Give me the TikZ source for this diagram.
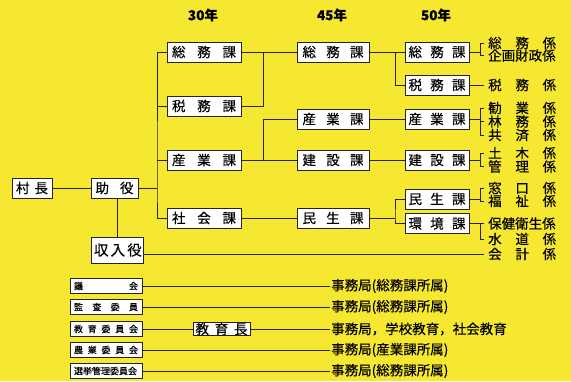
\documentclass[tikz,border=0pt]{standalone}
\usepackage{fontspec}
\setmainfont{Noto Sans CJK JP}[FakeBold=0.35]
\usetikzlibrary{positioning,calc}
\definecolor{bgyel}{RGB}{246,232,48}
\definecolor{ink}{RGB}{40,36,20}
\newcommand{\spr}[2]{\makebox[#1][s]{#2}}
\tikzset{
  conn/.style={draw=ink,line width=1pt},
  kabox/.style={draw=ink,line width=0.9pt,fill=white,inner sep=0pt,minimum height=20pt,font=\fontsize{13.5}{14}\selectfont},
  k30/.style={kabox,minimum width=74pt},
  k45/.style={kabox,minimum width=72pt},
  k50/.style={kabox,minimum width=64pt},
  kakari/.style={anchor=west,inner xsep=4pt,inner ysep=0pt,font=\fontsize{13.5}{14}\selectfont},
  iin/.style={draw=ink,line width=0.8pt,fill=white,inner sep=0pt,minimum width=72pt,minimum height=15pt,font=\fontsize{9}{9}\selectfont},
  kyoku/.style={anchor=west,inner xsep=1pt,inner ysep=0pt,font=\fontsize{13.5}{14}\selectfont},
  nen/.style={font=\bfseries\fontsize{13.5}{14}\selectfont},
}
\begin{document}
\begin{tikzpicture}[x=1pt,y=-1pt]
  \useasboundingbox[fill=bgyel] (0,0) rectangle (571,381);
  % nendo
  \node[nen] (n30) at (203,15) {30年};
  \node[nen] (n45) at (332,15) {45年};
  \node[nen] (n50) at (436,15) {50年};
  % sancho, joyaku
  \node[kabox,minimum width=40pt] (son) at (32,188) {\spr{32pt}{村 長}};
  \node[kabox,minimum width=47pt] (jo) at (114.5,188) {\spr{38pt}{助 役}};
  \node[kabox,minimum width=52pt,minimum height=26pt,font=\fontsize{14.5}{15}\selectfont] (shu) at (117,250) {\spr{46pt}{収 入 役}};
  % 30 nen
  \node[k30] (so30) at (204,52) {\spr{64pt}{総 務 課}};
  \node[k30] (ze30) at (204,106) {\spr{64pt}{税 務 課}};
  \node[k30] (san30) at (204,160) {\spr{64pt}{産 業 課}};
  \node[k30] (sha30) at (204,218) {\spr{64pt}{社 会 課}};
  % 45 nen
  \node[k45] (so45) at (333,52) {\spr{61pt}{総 務 課}};
  \node[k45] (san45) at (333,119) {\spr{61pt}{産 業 課}};
  \node[k45] (ke45) at (333,160) {\spr{61pt}{建 設 課}};
  \node[k45] (min45) at (333,218) {\spr{61pt}{民 生 課}};
  % 50 nen
  \node[k50] (so50) at (437,52) {\spr{57pt}{総 務 課}};
  \node[k50] (ze50) at (437,85) {\spr{57pt}{税 務 課}};
  \node[k50] (san50) at (437,119) {\spr{57pt}{産 業 課}};
  \node[k50] (ke50) at (437,160) {\spr{57pt}{建 設 課}};
  \node[k50] (min50) at (437,199) {\spr{57pt}{民 生 課}};
  \node[k50] (kan50) at (437,223.5) {\spr{57pt}{環 境 課}};
  % kakari
  \node[kakari] (k11) at (484,43) {\spr{68pt}{総 務 係}};
  \node[kakari] (k12) at (484,55.5) {\spr{68pt}{企画財政係}};
  \node[kakari] (k21) at (484,85) {\spr{68pt}{税 務 係}};
  \node[kakari] (k31) at (484,108) {\spr{68pt}{勧 業 係}};
  \node[kakari] (k32) at (484,121.5) {\spr{68pt}{林 務 係}};
  \node[kakari] (k33) at (484,135) {\spr{68pt}{共 済 係}};
  \node[kakari] (k41) at (484,153) {\spr{68pt}{土 木 係}};
  \node[kakari] (k42) at (484,166.5) {\spr{68pt}{管 理 係}};
  \node[kakari] (k51) at (484,188) {\spr{68pt}{窓 口 係}};
  \node[kakari] (k52) at (484,201) {\spr{68pt}{福 祉 係}};
  \node[kakari] (k61) at (484,223.5) {\spr{68pt}{保健衛生係}};
  \node[kakari] (k62) at (484,239) {\spr{68pt}{水 道 係}};
  \node[kakari] (k7) at (484,254) {\spr{68pt}{会 計 係}};
  % iinkai
  \node[iin] (gi) at (106,286) {\spr{64pt}{議 会}};
  \node[iin] (kan) at (106,307) {\spr{64pt}{監 査 委 員}};
  \node[iin] (kyo) at (106,329) {\spr{64pt}{教 育 委 員 会}};
  \node[iin] (no) at (106,350) {\spr{64pt}{農 業 委 員 会}};
  \node[iin] (sen) at (106,371) {\spr{64pt}{選挙管理委員会}};
  \node[kabox,minimum width=57pt,minimum height=13pt] (kyocho) at (221.5,329) {\spr{52pt}{教 育 長}};
  \node[kyoku] (r1) at (330,286) {事務局(総務課所属)};
  \node[kyoku] (r2) at (330,307) {事務局(総務課所属)};
  \node[kyoku] (r3) at (330,329) {事務局，学校教育，社会教育};
  \node[kyoku] (r4) at (330,350) {事務局(産業課所属)};
  \node[kyoku] (r5) at (330,371) {事務局(総務課所属)};
  % sen
  \coordinate (tr) at (157,188);
  \draw[conn] (son) -- (jo);
  \draw[conn] (jo) -- (tr);
  \draw[conn] (so30.west) -| (tr) |- (sha30.west);
  \draw[conn] (ze30.west) -- (ze30.west -| tr);
  \draw[conn] (san30.west) -- (san30.west -| tr);
  \draw[conn] (shu.north |- jo.south) -- (shu.north);
  \draw[conn] (shu.east |- k7) -- (k7.west);
  \coordinate (ja) at (263,52);
  \coordinate (jb) at (263,160);
  \draw[conn] (so30) -- (so45);
  \draw[conn] (ze30.east) -| (ja);
  \draw[conn] (san30) -- (ke45);
  \draw[conn] (san45.west) -| (jb);
  \draw[conn] (sha30) -- (min45);
  \coordinate (jc) at (395,52);
  \coordinate (jd) at (395,218);
  \draw[conn] (so45) -- (so50);
  \draw[conn] (ze50.west) -| (jc);
  \draw[conn] (san45) -- (san50);
  \draw[conn] (ke45) -- (ke50);
  \draw[conn] (min45) -- (jd);
  \draw[conn] (min50.west) -| (jd) |- (kan50.west);
  % kakari
  \draw[conn] (so50.east) -- ++(11,0);
  \draw[conn] (k11.west) -- ++(-4,0) |- (k12.west);
  \draw[conn] (ze50) -- (k21);
  \draw[conn] (san50.east) -- ++(11,0);
  \draw[conn] (k31.west) -- ++(-4,0) |- (k33.west);
  \draw[conn] (k32.west) -- ++(-4,0);
  \draw[conn] (ke50.east) -- ++(11,0);
  \draw[conn] (k41.west) -- ++(-4,0) |- (k42.west);
  \draw[conn] (min50.east) -- ++(11,0);
  \draw[conn] (k51.west) -- ++(-4,0) |- (k52.west);
  \draw[conn] (kan50) -- (k61);
  \draw[conn] (k61.west) -- ++(-4,0) |- (k62.west);
  % iinkai
  \draw[conn] (gi) -- (r1);
  \draw[conn] (kan) -- (r2);
  \draw[conn] (kyo) -- (kyocho);
  \draw[conn] (kyocho) -- (r3);
  \draw[conn] (no) -- (r4);
  \draw[conn] (sen) -- (r5);
\end{tikzpicture}
\end{document}
